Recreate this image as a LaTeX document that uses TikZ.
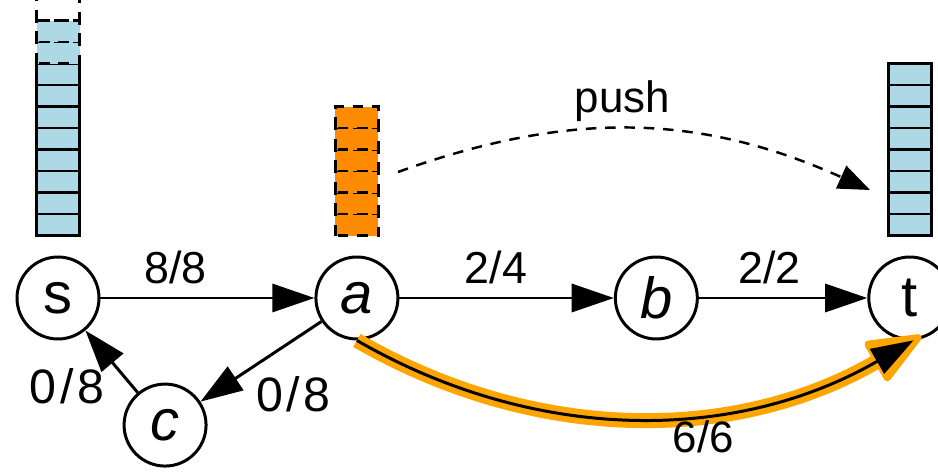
\documentclass[tikz,border=0pt]{standalone}
\usepackage{fontspec}
\setmainfont{Liberation Sans}
\usetikzlibrary{positioning, arrows.meta}
\definecolor{queueblue}{HTML}{ADD8E6}
\definecolor{queueorange}{HTML}{FF8C00}
\definecolor{pathorange}{HTML}{FFA500}
\newcommand{\nodefont}{\fontsize{33}{36}\selectfont}
\newcommand{\capfont}{\fontsize{25.5}{28}\selectfont}
\newcommand{\bigcapfont}{\fontsize{27.5}{30}\selectfont}
\newcommand{\pushfont}{\fontsize{25}{28}\selectfont}
\tikzset{main node/.style={circle,draw,line width=1.7pt,minimum size=1.64cm,inner sep=0pt,font=\nodefont}}
\tikzset{flow/.style={line width=1.7pt,-{Triangle[length=24pt,width=16pt]}}}
\tikzset{cell/.style={draw,line width=1.6pt,fill=queueblue}}
\tikzset{ghost cell/.style={draw,line width=1.6pt,dash pattern=on 6pt off 5pt}}
\tikzset{push flow/.style={line width=1.4pt,dash pattern=on 6pt off 5pt,-{Triangle[length=18pt,width=14pt]}}}

\begin{document}
\begin{tikzpicture}[x=0.02cm,y=0.02cm]
            \useasboundingbox (0,0) rectangle (938,471);
            \node[main node] (s) at (58,173) {s};
            \node[main node] (a) [right = 4.28cm of s] {\textit{a}};
            \node[main node] (b) [right = 4.29cm of a] {\textit{b}};
            \node[main node] (t) [right = 3.37cm of b] {t};
            \node[main node] (c) [below right = 1.34cm and 0.94cm of s] {\textit{c}};

            % queues
            \coordinate[above = 0.4cm of s] (qs);
            \coordinate[above = 0.4cm of a] (qa);
            \coordinate[above = 0.4cm of t] (qt);
            \foreach \i in {0,...,7}
                \draw[cell] (qs) ++(-21.5,{\i*21.5}) rectangle ++(43,21.5);
            \foreach \i in {8,9}
                \draw[ghost cell, fill=queueblue] (qs) ++(-21.5,{\i*21.5}) rectangle ++(43,21.5);
            \draw[ghost cell] (qs) ++(-21.5,215) rectangle ++(43,21.5);
            \foreach \i in {0,...,5}
                \draw[ghost cell, fill=queueorange] (qa) ++(-21.5,{\i*21.5}) rectangle ++(43,21.5);
            \foreach \i in {0,...,7}
                \draw[cell] (qt) ++(-21.5,{\i*21.5}) rectangle ++(43,21.5);

            \coordinate (pushfrom) at (398,299);
            \coordinate (pushto) at (870,281);
            \draw[push flow] (pushfrom) to[bend left=22]
                node[pos=0.47, above=0pt, font=\pushfont] (lp) {push} (pushto);

            % saturated path
            \draw[line width=8.5pt, pathorange, shorten >=-5pt,
                -{Triangle[length=34pt,width=27pt,line width=4pt,round]}]
                (a.south) to[bend right=30, looseness=0.95] (t.-85);
            \draw[flow] (a.south) to[bend right=30, looseness=0.95]
                node[pos=0.62, below=0pt, font=\fontsize{25}{28}\selectfont] (l6) {6/6} (t.-85);

            \path[draw, flow]
            (s) edge node[pos=0.35, above=4pt, font=\capfont] (l1) {8/8} (a)
            (a) edge node[pos=0.45, above=4pt, font=\capfont] (l2) {2/4} (b)
            (b) edge node[pos=0.42, above=4pt, font=\capfont] (l3) {2/2} (t)
            (a) edge node[pos=0.6, below right, font=\bigcapfont] (l4) {0\kern2pt/\kern2pt8} (c)
            (c) edge node[pos=0.5, below left, font=\bigcapfont] (l5) {0\kern2pt/\kern2pt8} (s);
        \end{tikzpicture}
\end{document}
